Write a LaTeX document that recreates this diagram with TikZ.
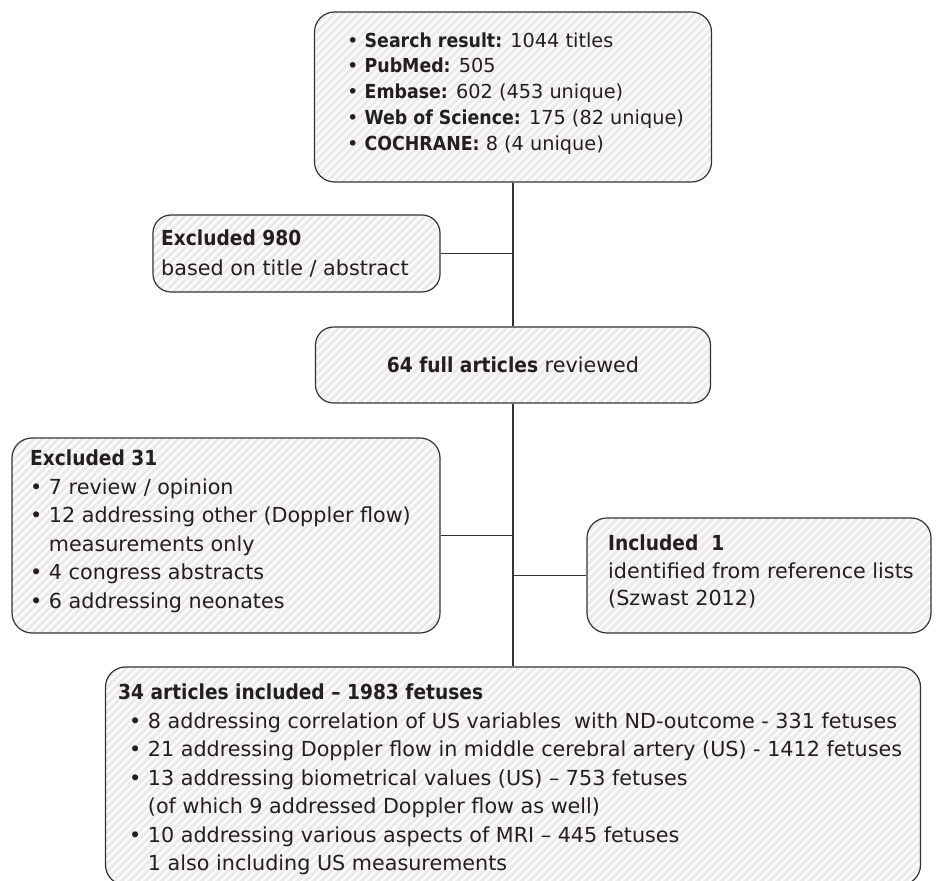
\documentclass[tikz,border=0pt]{standalone}
\usepackage{fontspec}
\setmainfont{DejaVu Sans}[BoldFont={DejaVu Sans Condensed Bold}]
\definecolor{linec}{HTML}{333333}
\definecolor{boxfill}{HTML}{EBEBEB}
\definecolor{textc}{HTML}{231F20}
\tikzset{
  boxshape/.style={draw=linec, line width=1.2pt, rounded corners=20pt, fill=boxfill, inner sep=0pt,
    path picture={\foreach \k in {-40,...,120}{\draw[white, line width=2pt] ([xshift=\k*8pt]path picture bounding box.south west) -- ++(300pt,300pt);}}},
  txt/.style={inner sep=0pt, align=left, anchor=north west, text=textc},
  conn/.style={draw=linec, line width=1.2pt}
}
\newcommand{\bul}{\textbullet\ }
\newcommand{\ind}{\hphantom{\textbullet\ }}
\newcommand{\sub}{\hspace*{11pt}}
\begin{document}
\begin{tikzpicture}[x=1pt,y=1pt]
\useasboundingbox (0,0) rectangle (936,880);
\clip (0,0) rectangle (936,880);
% boxes
\node[boxshape, minimum width=397pt, minimum height=170pt] (top) at (513,783) {};
\node[boxshape, minimum width=287pt, minimum height=77pt, rounded corners=18pt] (ex980) at (296.5,626.5) {};
\node[boxshape, minimum width=395pt, minimum height=76pt, rounded corners=18pt] (full) at (513,515) {};
\node[boxshape, minimum width=428pt, minimum height=195pt] (exa) at (226,344.5) {};
\node[boxshape, minimum width=344pt, minimum height=115pt] (inc) at (759,304.5) {};
\node[boxshape, minimum width=815pt, minimum height=218pt] (fin) at (513,104) {};
% connectors
\draw[conn] (top.south) -- (full.north);
\draw[conn] (ex980.east) -- (ex980.east -| top.south);
\draw[conn] (full.south) -- (fin.north);
\draw[conn] (exa.east) -- (exa.east -| full.south);
\draw[conn] (inc.west -| full.south) -- (inc.west);
% texts
\node[txt, font=\fontsize{19.3}{25.8}\selectfont] (toptext) at (347,847.7) {%
\bul\textbf{Search result:} 1044 titles\\
\bul\textbf{PubMed:} 505\\
\bul\textbf{Embase:} 602 (453 unique)\\
\bul\textbf{Web of Science:} 175 (82 unique)\\
\bul\textbf{COCHRANE:} 8 (4 unique)};
\node[txt, font=\fontsize{20.7}{30}\selectfont] (ex980text) at (161,650.2) {%
\textbf{Excluded 980}\\
based on title / abstract};
\node[txt, anchor=center, font=\fontsize{20.7}{28}\selectfont] (fulltext) at (513,515) {\textbf{64 full articles} reviewed};
\node[txt, font=\fontsize{20.7}{28.5}\selectfont] (exatext) at (30,430.2) {%
\textbf{Excluded 31}\\
\bul 7 review / opinion\\
\bul 12 addressing other (Doppler flow)\\
\ind measurements only\\
\bul 4 congress abstracts\\
\bul 6 addressing neonates};
\node[txt, font=\fontsize{20.7}{27.5}\selectfont] (inctext) at (608,345.2) {%
\textbf{Included\ \ 1}\\
identified from reference lists\\
(Szwast 2012)};
\node[txt, font=\fontsize{20.7}{28.5}\selectfont] (fintext) at (118,196.2) {%
\textbf{34 articles included – 1983 fetuses}\\
\sub\bul 8 addressing correlation of US variables\ \ with ND-outcome - 331 fetuses\\
\sub\bul 21 addressing Doppler flow in middle cerebral artery (US) - 1412 fetuses\\
\sub\bul 13 addressing biometrical values (US) – 753 fetuses\\
\sub\ind (of which 9 addressed Doppler flow as well)\\
\sub\bul 10 addressing various aspects of MRI – 445 fetuses\\
\sub\ind 1 also including US measurements};
\end{tikzpicture}
\end{document}
